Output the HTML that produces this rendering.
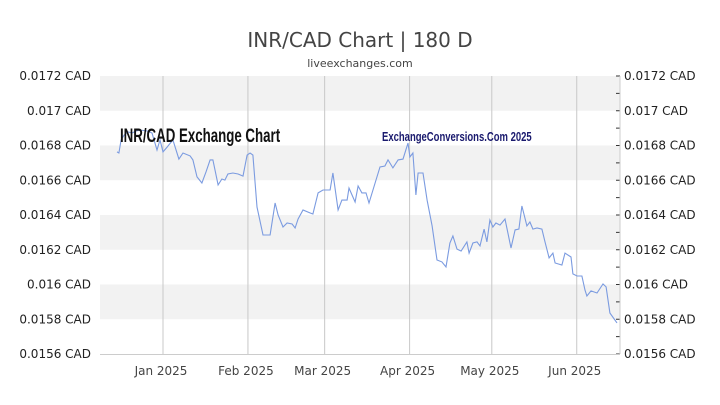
<!DOCTYPE html>
<html><head><meta charset="utf-8"><style>
body{margin:0;background:#fff;}
svg{display:block;font-family:"DejaVu Sans","Liberation Sans",sans-serif;}
</style></head><body>
<svg id="c" width="720" height="405">
<text x="360" y="47" text-anchor="middle" font-size="20" fill="#444">INR/CAD Chart | 180 D</text>
<text x="360" y="67" text-anchor="middle" font-size="11" fill="#444">liveexchanges.com</text>
<g id="grid"></g>
<g id="axes"></g>
<path id="line" fill="none" stroke="#7b9be0" stroke-width="1.1"></path>
<text x="120" y="142" font-size="19" font-weight="bold" fill="#111" transform="translate(120,0) scale(0.7,1) translate(-120,0)" font-family="Liberation Sans Narrow,Liberation Sans,sans-serif">INR/CAD Exchange Chart</text>
<text x="382" y="141" font-size="13" font-weight="bold" fill="#1a1a6e" transform="translate(382,0) scale(0.73,1) translate(-382,0)" font-family="Liberation Sans Narrow,Liberation Sans,sans-serif">ExchangeConversions.Com 2025</text>
</svg>
<script>
const days=[-16.8,-16.1,-15.3,-14.2,-12.8,-11.3,-9.9,-8.4,-5.5,-4,-2.2,-1.1,0,1.5,3.6,5.8,7.3,9.9,10.9,12.4,14.2,15.7,17.2,18.2,20.1,21.5,22.6,23.7,25.5,27.4,29.2,30.7,31.8,32.8,34.3,36.5,39.1,40.9,42,43.8,45.3,47.1,48.2,49.3,51.1,53.6,54.7,56.6,58.4,61,62,63.9,65.3,67.2,67.9,70.1,71.2,72.6,74.1,75.2,77.4,79.2,81,82.1,83.9,85.8,87.6,89.4,90.1,91.2,92.3,93.1,94.9,96.4,98.2,100,101.8,103.3,104.7,105.8,107.3,108.8,110.9,111.7,113.1,114.6,115.7,117.2,118.2,119.3,120.4,121.5,123,124.8,127,128.5,129.9,131,132.8,133.9,135,136.5,138.3,139.4,140.9,142.3,143.1,145.6,146.7,148.9,149.6,151.1,152.9,154,154.7,156.2,158.4,160.6,161.7,163.1,165.7];
const rates=[0.016763,0.016757,0.016832,0.016860,0.016878,0.016872,0.016883,0.016889,0.016883,0.016872,0.016774,0.016832,0.016763,0.016791,0.016832,0.016722,0.016757,0.016740,0.016717,0.016619,0.016584,0.016648,0.016717,0.016717,0.016573,0.016607,0.016601,0.016636,0.016642,0.016636,0.016624,0.016745,0.016757,0.016745,0.016446,0.016285,0.016285,0.016469,0.016400,0.016331,0.016354,0.016348,0.016325,0.016377,0.016429,0.016412,0.016406,0.016527,0.016544,0.016544,0.016642,0.016429,0.016486,0.016486,0.016555,0.016475,0.016567,0.016527,0.016527,0.016469,0.016584,0.016676,0.016682,0.016717,0.016671,0.016717,0.016722,0.016814,0.016734,0.016757,0.016515,0.016642,0.016642,0.016486,0.016337,0.016141,0.016130,0.016101,0.016239,0.016279,0.016204,0.016193,0.016245,0.016181,0.016239,0.016245,0.016222,0.016319,0.016245,0.016371,0.016331,0.016354,0.016342,0.016377,0.016210,0.016314,0.016319,0.016452,0.016337,0.016360,0.016319,0.016325,0.016319,0.016245,0.016153,0.016181,0.016124,0.016112,0.016181,0.016158,0.016061,0.016049,0.016049,0.015968,0.015934,0.015963,0.015951,0.016003,0.015986,0.015836,0.015779];
const yTicks=[0.0156,0.0158,0.016,0.0162,0.0164,0.0166,0.0168,0.017,0.0172];
const yLabels=["0.0156 CAD","0.0158 CAD","0.016 CAD","0.0162 CAD","0.0164 CAD","0.0166 CAD","0.0168 CAD","0.017 CAD","0.0172 CAD"];
const monthDays=[0,31,59,90,120,151];
const monthLabels=["Jan 2025","Feb 2025","Mar 2025","Apr 2025","May 2025","Jun 2025"];
const X0=100,X1=620,Y0=354,Y1=76;
const sx=d=>163+d*2.74;
const sy=v=>Y0-(v-0.0156)/(0.0172-0.0156)*(Y0-Y1);
const NS="http://www.w3.org/2000/svg";
const grid=document.getElementById('grid'),axes=document.getElementById('axes');
function mk(tag,at,parent){const e=document.createElementNS(NS,tag);for(const k in at)e.setAttribute(k,at[k]);parent.appendChild(e);return e;}
for(let i=0;i<yTicks.length-1;i++){
  if((yTicks.length-2-i)%2===0){
    const r=mk('rect',{x:X0,y:sy(yTicks[i+1]),width:X1-X0,height:sy(yTicks[i])-sy(yTicks[i+1]),fill:'#f2f2f2'},grid);
    
    
  }
}
monthDays.forEach((d,i)=>{
  const l=mk('line',{x1:sx(d),x2:sx(d),y1:Y1,y2:Y0,stroke:'#c8c8c8','stroke-width':1},grid);
  
  
  const t=mk('text',{x:sx(d)-2,y:375,'text-anchor':'middle','font-size':12,fill:'#444'},axes);
  t.textContent=monthLabels[i];
  
  
});
yTicks.forEach((v,i)=>{
  const a=mk('text',{x:91,y:sy(v)+4,'text-anchor':'end','font-size':12,fill:'#222'},axes);
  a.textContent=yLabels[i];
  
  
  const b=mk('text',{x:624,y:sy(v)+4,'font-size':12,fill:'#222'},axes);
  b.textContent=yLabels[i];
  
  
});
for(let i=0;i<=16;i++){
  const v=0.0156+i*0.0001;
  const tk=mk('line',{x1:X1-4,x2:X1,y1:sy(v),y2:sy(v),stroke:'#333','stroke-width':1},axes);
  
  
}
const ax=mk('line',{x1:X1,x2:X1,y1:Y1,y2:Y0,stroke:'#ccc','stroke-width':1},axes);


const bx=mk('line',{x1:X0,x2:X1,y1:Y0+0.5,y2:Y0+0.5,stroke:'#ccc','stroke-width':1},axes);


document.getElementById('line').setAttribute('d',days.map((d,i)=>(i?'L':'M')+sx(d).toFixed(1)+' '+sy(rates[i]).toFixed(1)).join(''));
</script>
</body></html>
